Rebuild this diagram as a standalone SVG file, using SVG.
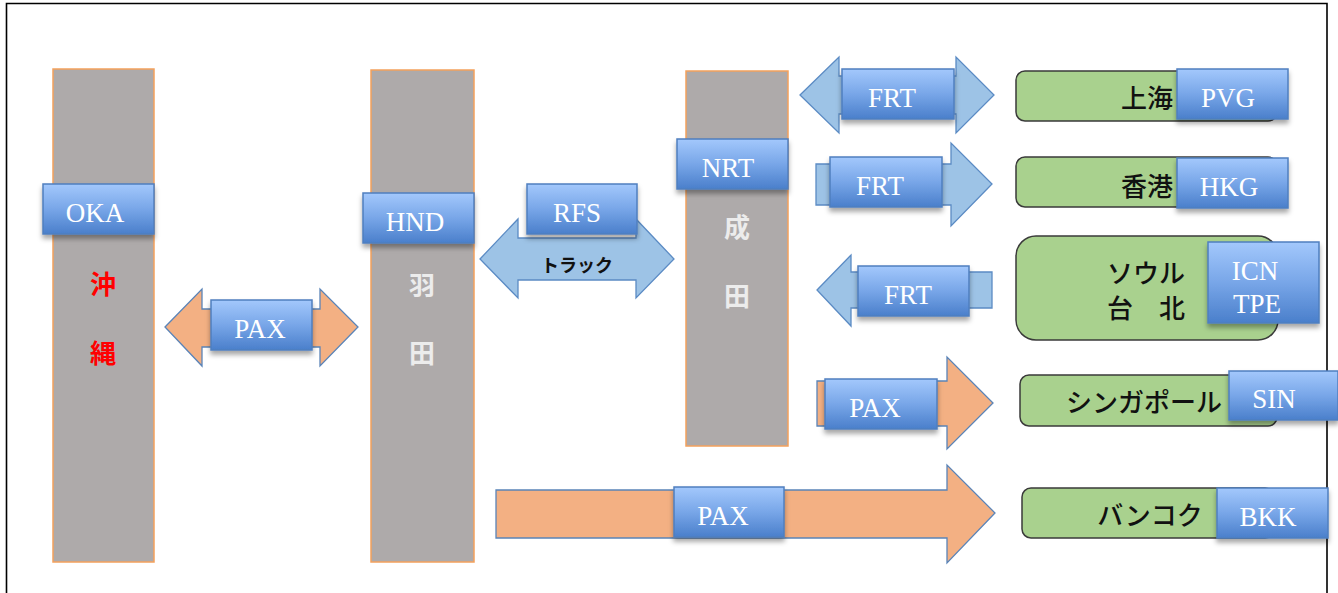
<svg xmlns="http://www.w3.org/2000/svg" width="1338" height="593" viewBox="0 0 1338 593">
<defs>
<linearGradient id="lg" x1="0" y1="0" x2="0" y2="1">
<stop offset="0" stop-color="#a3c8fc"/>
<stop offset="0.5" stop-color="#78a6e8"/>
<stop offset="1" stop-color="#4a7fcb"/>
</linearGradient>
<filter id="sh" x="-10%" y="-10%" width="120%" height="140%">
<feDropShadow dx="0" dy="4" stdDeviation="2.5" flood-color="#000" flood-opacity="0.35"/>
</filter>
<style>
.col{fill:#aeaaaa;stroke:#f4a15c;stroke-width:1.5}
.lab rect{fill:url(#lg);stroke:#4f7fbf;stroke-width:1.5;filter:url(#sh)}
.lab text{fill:#fff;font-family:"Liberation Serif","Times New Roman",serif;font-size:27px;text-anchor:middle}
.oar{fill:#f3b083;stroke:#5a84b8;stroke-width:1.3}
.bar{fill:#9dc3e6;stroke:#5b8bc4;stroke-width:1.3}
.gb{fill:#a9d18e;stroke:#3a3a3a;stroke-width:1.5}
.jt{font-family:"Noto Sans CJK JP","Noto Sans",sans-serif;font-size:26px;font-weight:500;fill:#111}
.ct{font-family:"Noto Sans CJK JP","Noto Sans",sans-serif;font-size:26px;font-weight:bold;text-anchor:middle}
</style>
</defs>
<rect x="0" y="0" width="1338" height="593" fill="#fff"/>
<path d="M6.5,600 V3.5 H1327 V600" fill="none" stroke="#000" stroke-width="1.6"/>

<g id="connectors">
<polygon class="oar" points="165,327 202,289 202,309 320,309 320,289 358,327 320,366 320,347 202,347 202,366"/>
<polygon class="bar" points="480,259 518,219 518,238 636,238 636,219 674,259 636,298 636,280 518,280 518,298"/>
<polygon class="bar" points="800,95 839,57 839,76 956,76 956,57 994,95 956,133 956,114 839,114 839,133"/>
<polygon class="bar" points="816,164 951,164 951,143 992,184 951,226 951,205 816,205"/>
<polygon class="bar" points="817,290 851,255 851,272 992,272 992,308 851,308 851,326"/>
<polygon class="oar" points="817,381 947,381 947,357 993,403 947,449 947,426 817,426"/>
<polygon class="oar" points="496,490 947,490 947,465 995,513 947,563 947,538 496,538"/>
<text x="577" y="272" font-family="Noto Sans CJK JP,sans-serif" font-size="18" font-weight="bold" fill="#111" text-anchor="middle">トラック</text>
</g>

<g id="okinawa">
<rect class="col" x="53" y="69" width="101" height="493"/>
<text class="ct" x="103" y="294" fill="#ff0000">沖</text>
<text class="ct" x="103" y="363" fill="#ff0000">縄</text>
</g>
<g id="haneda">
<rect class="col" x="371" y="70" width="103" height="492"/>
<text class="ct" x="422" y="295" fill="#ececec">羽</text>
<text class="ct" x="422" y="363" fill="#ececec">田</text>
</g>
<g id="narita">
<rect class="col" x="686" y="71" width="102" height="375"/>
<text class="ct" x="737" y="237" fill="#ececec">成</text>
<text class="ct" x="737" y="306" fill="#ececec">田</text>
</g>

<g id="shanghai">
<rect class="gb" x="1016" y="71" width="261" height="50" rx="9"/>
<text class="jt" x="1173" y="108" text-anchor="end">上海</text>
</g>
<g id="hongkong">
<rect class="gb" x="1016" y="157" width="261" height="50" rx="9"/>
<text class="jt" x="1173" y="196" text-anchor="end">香港</text>
</g>
<g id="seoul-taipei">
<rect class="gb" x="1016" y="236" width="262" height="104" rx="20"/>
<text class="jt" x="1146" y="283" text-anchor="middle">ソウル</text>
<text class="jt" x="1146" y="318" text-anchor="middle">台　北</text>
</g>
<g id="singapore">
<rect class="gb" x="1020" y="375" width="257" height="51" rx="9"/>
<text class="jt" x="1066" y="412">シンガポール</text>
</g>
<g id="bangkok">
<rect class="gb" x="1022" y="488" width="252" height="50" rx="9"/>
<text class="jt" x="1150" y="525" text-anchor="middle">バンコク</text>
</g>

<g id="lbl-oka" class="lab"><rect x="43" y="184" width="111" height="50"/><text x="95" y="222">OKA</text></g>
<g id="lbl-hnd" class="lab"><rect x="363" y="193" width="111" height="50"/><text x="415" y="231">HND</text></g>
<g id="lbl-rfs" class="lab"><rect x="527" y="184" width="110" height="50"/><text x="577" y="222">RFS</text></g>
<g id="lbl-nrt" class="lab"><rect x="677" y="139" width="111" height="50"/><text x="728" y="177">NRT</text></g>
<g id="lbl-pax1" class="lab"><rect x="211" y="300" width="101" height="50"/><text x="260" y="338">PAX</text></g>
<g id="lbl-frt1" class="lab"><rect x="842" y="69" width="112" height="50"/><text x="892" y="107">FRT</text></g>
<g id="lbl-frt2" class="lab"><rect x="830" y="157" width="112" height="50"/><text x="880" y="195">FRT</text></g>
<g id="lbl-frt3" class="lab"><rect x="858" y="266" width="111" height="50"/><text x="908" y="304">FRT</text></g>
<g id="lbl-pax2" class="lab"><rect x="825" y="379" width="112" height="50"/><text x="875" y="417">PAX</text></g>
<g id="lbl-pax3" class="lab"><rect x="674" y="487" width="110" height="50"/><text x="723" y="525">PAX</text></g>
<g id="lbl-pvg" class="lab"><rect x="1177" y="69" width="111" height="50"/><text x="1228" y="107">PVG</text></g>
<g id="lbl-hkg" class="lab"><rect x="1177" y="158" width="111" height="50"/><text x="1229" y="196">HKG</text></g>
<g id="lbl-icn" class="lab"><rect x="1208" y="242" width="111" height="81"/><text x="1255" y="280">ICN</text><text x="1257" y="313">TPE</text></g>
<g id="lbl-sin" class="lab"><rect x="1229" y="371" width="109" height="49"/><text x="1274" y="408">SIN</text></g>
<g id="lbl-bkk" class="lab"><rect x="1217" y="488" width="111" height="50"/><text x="1268" y="526">BKK</text></g>
</svg>
